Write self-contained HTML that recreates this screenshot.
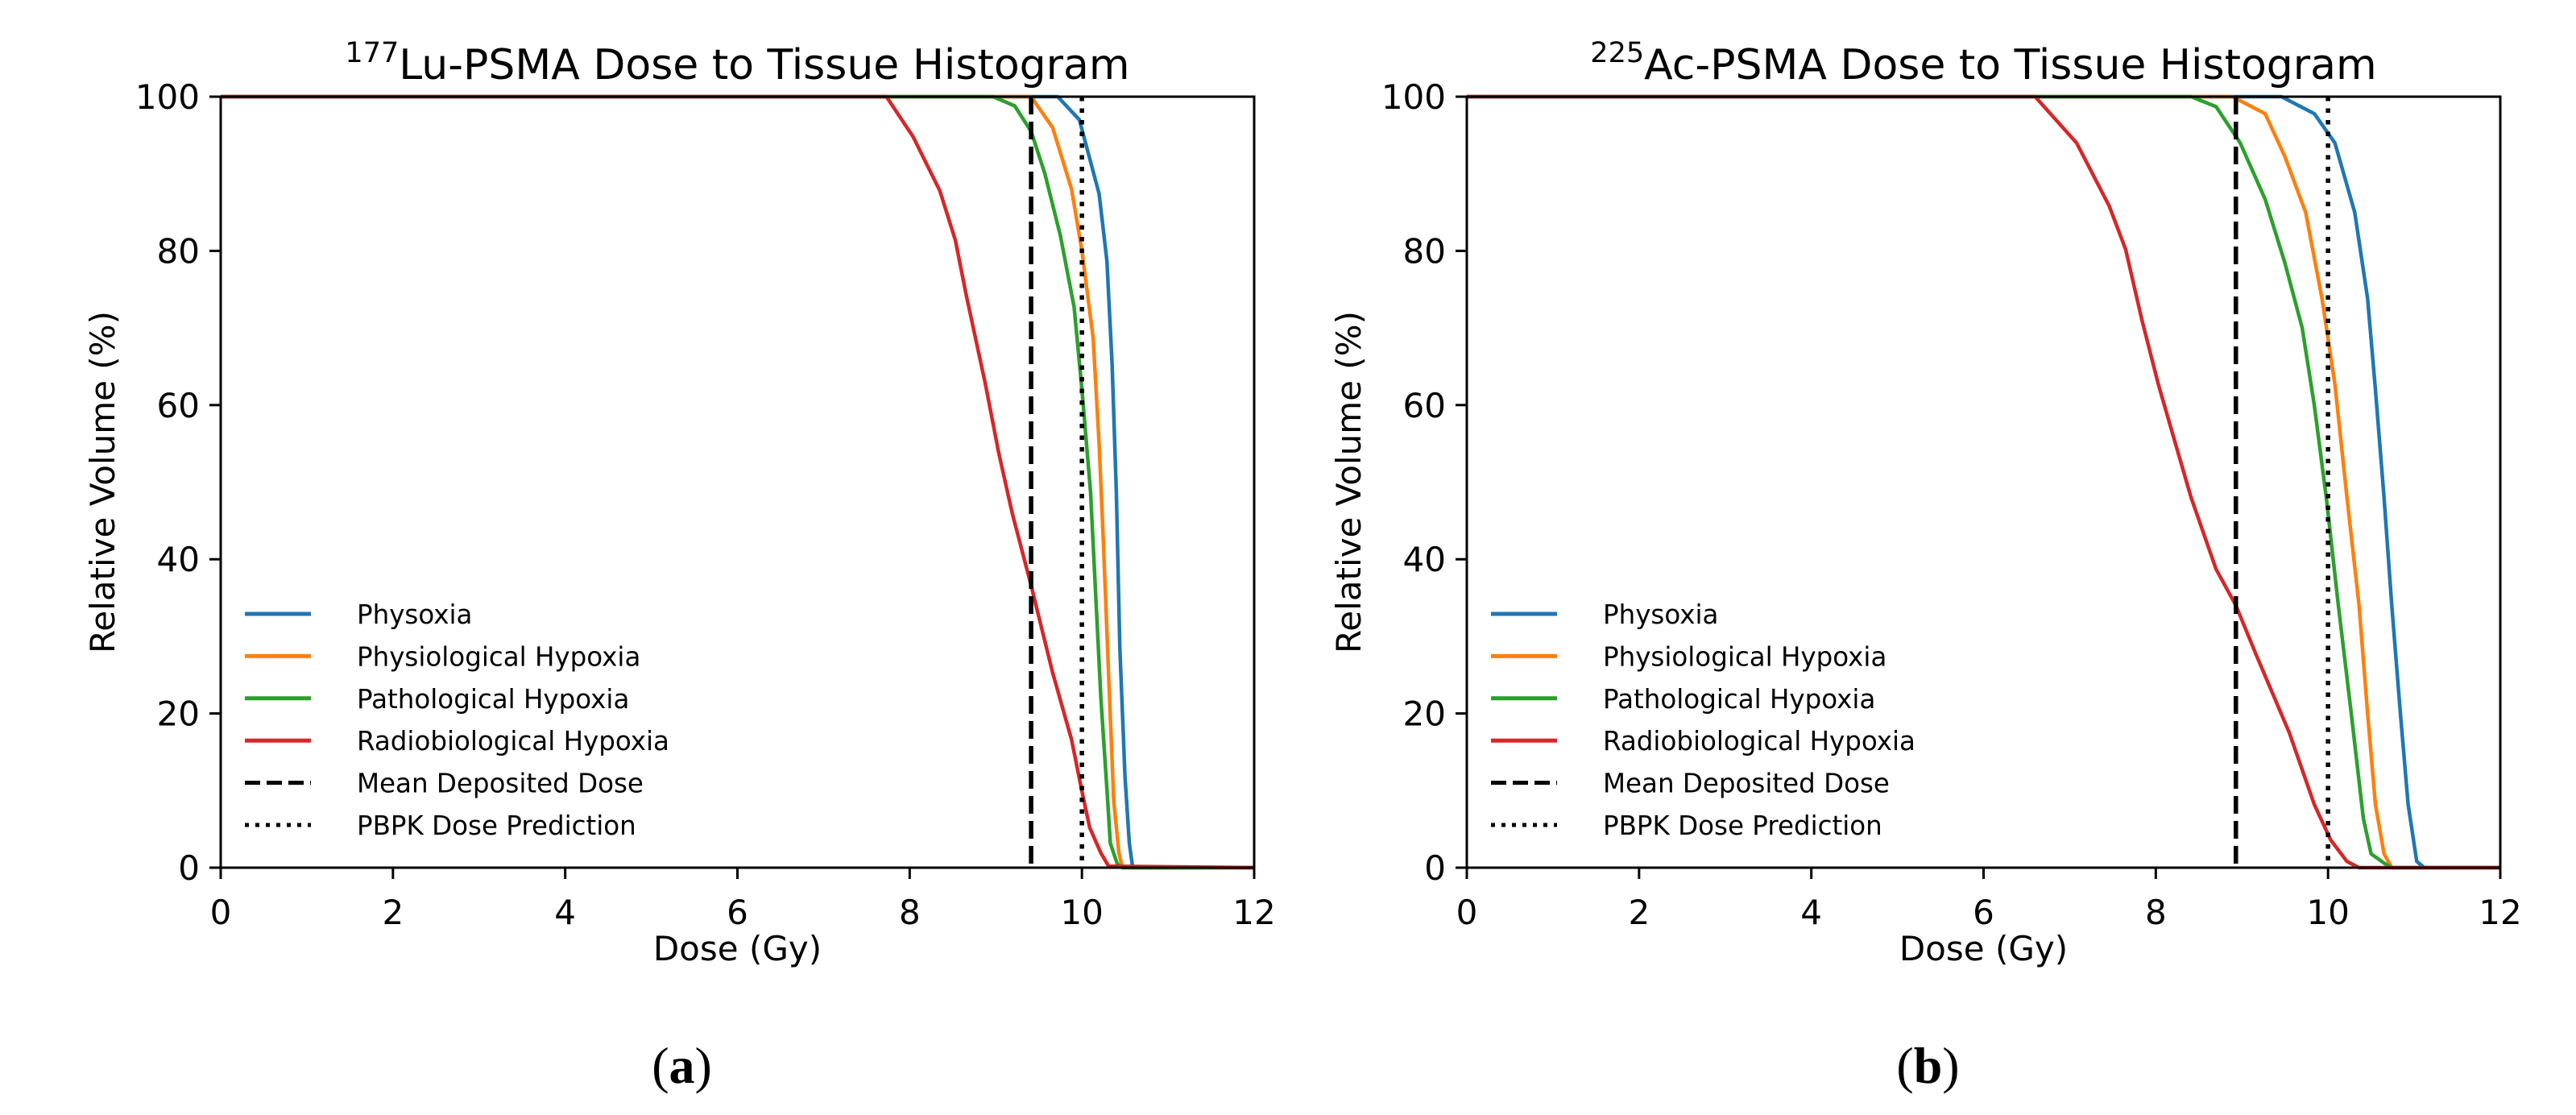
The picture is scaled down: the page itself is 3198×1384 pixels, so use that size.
<!DOCTYPE html>
<html><head><meta charset="utf-8">
<style>
html,body{margin:0;padding:0;background:#fff;}
svg{display:block;font-family:"DejaVu Sans","Liberation Sans",sans-serif;}
</style></head>
<body>
<svg id="fig" width="3198" height="1384" viewBox="0 0 3198 1384" xmlns="http://www.w3.org/2000/svg"></svg>
<script>
// ---- data ----
const xTicks = [0,2,4,6,8,10,12];
const yTicks = [0,20,40,60,80,100];
const seriesNames = ["Physoxia","Physiological Hypoxia","Pathological Hypoxia","Radiobiological Hypoxia"];
const seriesColors = ["#1f77b4","#ff7f0e","#2ca02c","#d62728"];
// Panel (a) Lu-177
const luPhysDose = [0,9.72,9.97,10.2,10.29,10.35,10.4,10.44,10.5,10.55,10.59,12];
const luPhysVol  = [100,100,97,87.4,78.7,65.4,48.7,28.6,11.9,3.2,0,0];
const luPhysioDose = [0,9.41,9.66,9.88,10.0,10.13,10.2,10.25,10.31,10.37,10.43,10.47,12];
const luPhysioVol  = [100,100,96,88,80,68.7,55,42,25,8.6,1.9,0,0];
const luPathDose = [0,8.97,9.22,9.41,9.57,9.75,9.91,10.0,10.1,10.16,10.22,10.3,10.33,10.41,10.47,12];
const luPathVol  = [100,100,98.8,95.5,90,82,72.7,62,48.7,35.3,22,8.6,3.2,0.5,0,0];
const luRadioDose = [0,7.73,8.04,8.35,8.53,8.66,8.88,9.03,9.19,9.41,9.66,9.88,10.0,10.09,10.22,10.31,12];
const luRadioVol  = [100,100,94.8,87.8,81.4,74.1,62.7,54,46,36.6,25.3,16.6,9.9,5.2,1.9,0.2,0];
const luMeanDose = 9.41;
const luPbpkDose = 10.0;
// Panel (b) Ac-225
const acPhysDose = [0,9.46,9.84,10.08,10.31,10.46,10.55,10.65,10.74,10.84,10.93,11.03,11.12,12];
const acPhysVol  = [100,100,97.8,94,85,73.8,62,48,34,20,8.2,0.8,0,0];
const acPhysioDose = [0,8.89,9.27,9.5,9.74,9.93,10.08,10.22,10.36,10.46,10.55,10.65,10.74,12];
const acPhysioVol  = [100,100,97.8,92.2,85,73.8,62.7,48,34,20,8.2,1.8,0,0];
const acPathDose = [0,8.41,8.7,8.98,9.27,9.5,9.7,9.84,9.98,10.12,10.27,10.41,10.5,10.65,10.74,12];
const acPathVol  = [100,100,98.7,94,86.7,78.4,70,60,48,34,20,6.4,1.8,0.6,0,0];
const acRadioDose = [0,6.6,7.08,7.46,7.65,7.84,8.03,8.22,8.41,8.7,8.93,9.17,9.55,9.84,10.03,10.22,10.36,12];
const acRadioVol  = [100,100,94,85.8,80.2,71,62.7,55.3,48,38.7,34,27.5,17.5,8.2,3.6,0.8,0,0];
const acMeanDose = 8.93;
const acPbpkDose = 10.0;

const NS = "http://www.w3.org/2000/svg";
const svg = document.getElementById('fig');
function mk(tag, attrs, parent){
  const e = document.createElementNS(NS, tag);
  for (const k in attrs) e.setAttribute(k, attrs[k]);
  (parent||svg).appendChild(e);
  return e;
}

function panel(cfg){
  const L = cfg.left, R = cfg.left + 1283, T = 120, B = 1077;
  const sx = v => L + (v/12)*(R-L);
  const sy = v => B - (v/100)*(B-T);
  const g = mk('g', {});
  
  

  const sets = cfg.series;
  for (let i=0;i<sets.length;i++){
    const d = sets[i][0].map((x,j)=> (j?'L':'M') + sx(x).toFixed(1) + ',' + sy(sets[i][1][j]).toFixed(1)).join(' ');
    const p = mk('path', {d:d, fill:'none', stroke:seriesColors[i], 'stroke-width':4.5, 'stroke-linejoin':'round'}, g);
    
    
  }
  const mline = mk('line', {x1:sx(cfg.mean), x2:sx(cfg.mean), y1:T, y2:B, stroke:'#000', 'stroke-width':5.5, 'stroke-dasharray':'22,9'}, g);
  
  
  const pline = mk('line', {x1:sx(cfg.pbpk), x2:sx(cfg.pbpk), y1:T, y2:B, stroke:'#000', 'stroke-width':5.5, 'stroke-dasharray':'5.5,9'}, g);
  
  

  const fr = mk('rect', {x:L, y:T, width:R-L, height:B-T, fill:'none', stroke:'#000', 'stroke-width':3}, g);
  
  

  xTicks.forEach(t=>{
    mk('line', {x1:sx(t), x2:sx(t), y1:B, y2:B+14, stroke:'#000', 'stroke-width':3}, g);
    const tx = mk('text', {x:sx(t), y:B+70, 'font-size':42, 'text-anchor':'middle', fill:'#000'}, g);
    tx.textContent = t;
    
    
  });
  yTicks.forEach(t=>{
    mk('line', {x1:L-14, x2:L, y1:sy(t), y2:sy(t), stroke:'#000', 'stroke-width':3}, g);
    const ty = mk('text', {x:L-26, y:sy(t)+15, 'font-size':42, 'text-anchor':'end', fill:'#000'}, g);
    ty.textContent = t;
    
    
  });

  const xl = mk('text', {x:(L+R)/2, y:1192, 'font-size':42, 'text-anchor':'middle', fill:'#000'}, g);
  xl.textContent = 'Dose (Gy)';
  
  
  const yx = L - 132;
  const yl = mk('text', {x:yx, y:(T+B)/2, 'font-size':42, 'text-anchor':'middle', fill:'#000', transform:'rotate(-90 '+yx+' '+((T+B)/2)+')'}, g);
  yl.textContent = 'Relative Volume (%)';
  
  

  const ti = mk('text', {x:(L+R)/2, y:98, 'font-size':52, 'text-anchor':'middle', fill:'#000'}, g);
  
  
  const sup = mk('tspan', {'font-size':35, dy:-21}, ti); sup.textContent = cfg.iso;
  const rest = mk('tspan', {dy:21}, ti); rest.textContent = cfg.title;

  const lg = mk('g', {}, g);
  
  
  const labels = seriesNames.concat(['Mean Deposited Dose','PBPK Dose Prediction']);
  labels.forEach((lab,i)=>{
    const y = 762 + i*52.4;
    const attrs = {x1:L+30, x2:L+112, y1:y, y2:y, 'stroke-width':5};
    if (i<4) attrs.stroke = seriesColors[i];
    else { attrs.stroke = '#000'; attrs['stroke-dasharray'] = i==4 ? '19,8' : '5,8'; }
    const ln = mk('line', attrs, lg);
    
    
    const tx = mk('text', {x:L+169, y:y+12, 'font-size':32.5, fill:'#000'}, lg);
    tx.textContent = lab;
    
    
  });

  const sl = mk('text', {x:(L+R)/2-69, y:1344, 'font-size':64, 'text-anchor':'middle', 'font-family':'"Liberation Serif","DejaVu Serif",serif', fill:'#000'}, g);
  
  
  const p1 = mk('tspan', {}, sl); p1.textContent='(';
  const p2 = mk('tspan', {'font-weight':'bold'}, sl); p2.textContent=cfg.letter;
  const p3 = mk('tspan', {}, sl); p3.textContent=')';
}

panel({id:'lu', left:274, iso:'177', title:'Lu-PSMA Dose to Tissue Histogram', letter:'a',
  mean:luMeanDose, pbpk:luPbpkDose,
  series:[[luPhysDose,luPhysVol],[luPhysioDose,luPhysioVol],[luPathDose,luPathVol],[luRadioDose,luRadioVol]]});
panel({id:'ac', left:1821, iso:'225', title:'Ac-PSMA Dose to Tissue Histogram', letter:'b',
  mean:acMeanDose, pbpk:acPbpkDose,
  series:[[acPhysDose,acPhysVol],[acPhysioDose,acPhysioVol],[acPathDose,acPathVol],[acRadioDose,acRadioVol]]});
</script>
</body></html>
